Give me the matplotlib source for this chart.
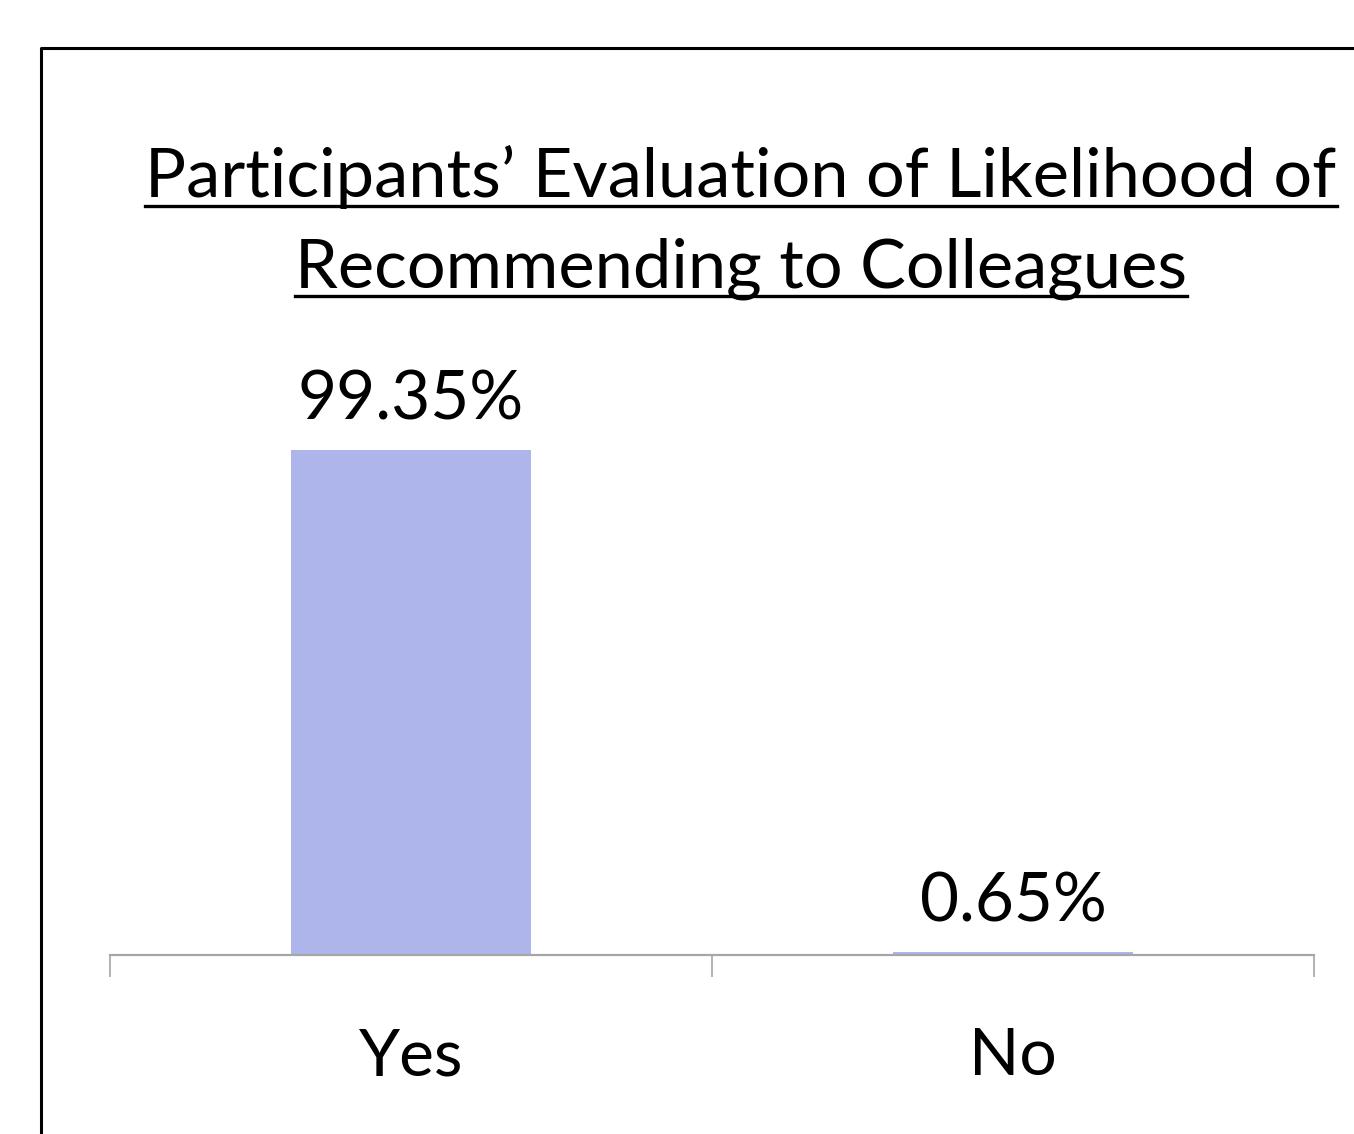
import matplotlib
matplotlib.use("Agg")
import matplotlib.pyplot as plt
from matplotlib.lines import Line2D

categories = ["Yes", "No"]
values = [99.35, 0.65]
labels = ["99.35%", "0.65%"]
title_lines = ["Participants\u2019 Evaluation of Likelihood of", "Recommending to Colleagues"]

W, H = 1354, 1134
DPI = 100
plt.rcParams['font.family'] = ['Lato', 'DejaVu Sans']

fig = plt.figure(figsize=(W / DPI, H / DPI), dpi=DPI)
fig.patch.set_facecolor('white')

def fx(px):
    return px / W

def fy(py):
    return 1 - py / H

# outer frame (left and top)
fig.add_artist(Line2D([fx(41), fx(41), fx(W + 5)], [fy(H + 5), fy(48), fy(48)],
                      transform=fig.transFigure, color='black', lw=2.2))

ax = fig.add_axes([fx(110), fy(955), fx(1314) - fx(110), fy(447) - fy(955)])
x = list(range(len(categories)))
bars = ax.bar(x, values, width=0.4, color='#ADB5EA', edgecolor='none')
ax.set_xlim(-0.5, 1.5)
ax.set_ylim(0, 100)
for s in ['top', 'right', 'left']:
    ax.spines[s].set_visible(False)
ax.spines['bottom'].set_color('#A6A6A6')
ax.spines['bottom'].set_linewidth(1.6)
ax.set_yticks([])
ax.set_xticks([-0.5, 0.5, 1.5])
ax.set_xticklabels([])
ax.tick_params(axis='x', which='major', length=16, width=1.2, color='#A6A6A6')
ax.patch.set_alpha(0)

for xi, cat in zip(x, categories):
    ax.annotate(cat, (xi, 0), xycoords=ax.get_xaxis_transform(),
                xytext=(0, -86.4), textcoords='offset points',
                ha='center', va='baseline', fontsize=47.5, annotation_clip=False)

for b, lab in zip(bars, labels):
    ax.annotate(lab, (b.get_x() + b.get_width() / 2, b.get_height()),
                xytext=(0, 22), textcoords='offset points',
                ha='center', va='baseline', fontsize=48.5)

t1 = fig.text(fx(741), fy(197), title_lines[0], ha='center', va='baseline', fontsize=49.3)
t2 = fig.text(fx(741), fy(287), title_lines[1], ha='center', va='baseline', fontsize=49.3)

fig.canvas.draw()
r = fig.canvas.get_renderer()
for t, base in [(t1, 197), (t2, 287)]:
    bb = t.get_window_extent(r)
    uy = base + 9
    fig.add_artist(Line2D([bb.x0 / W, bb.x1 / W], [fy(uy), fy(uy)],
                          transform=fig.transFigure, color='black', lw=2.4))

fig.savefig('out.png', dpi=DPI, facecolor='white')
